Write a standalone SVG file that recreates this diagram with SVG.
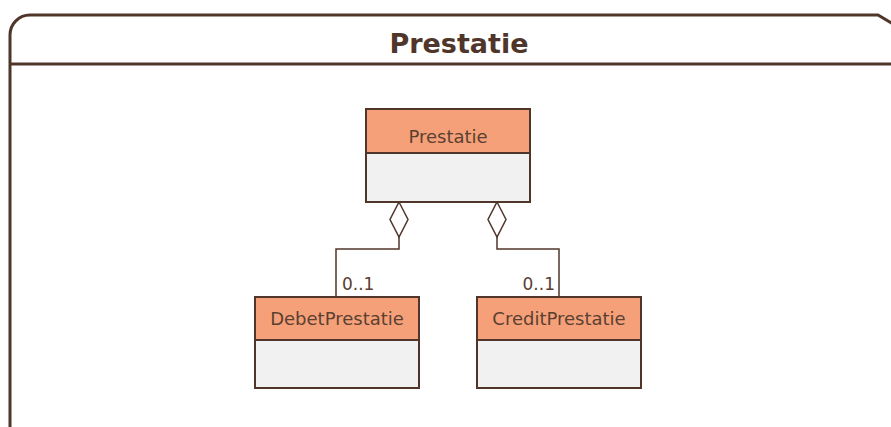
<svg xmlns="http://www.w3.org/2000/svg" width="891" height="427" viewBox="0 0 891 427">
<style>
.frame{fill:none;stroke:#50362a;stroke-width:3}
.hdr{fill:#f6a07a;stroke:#50362a;stroke-width:2}
.body{fill:#f1f1f1;stroke:#50362a;stroke-width:2}
.lbl{font-family:"DejaVu Sans",sans-serif;font-size:18px;fill:#5a4030;text-anchor:middle}
.mult{font-family:"DejaVu Sans",sans-serif;font-size:17px;fill:#5a4030}
.title{font-family:"DejaVu Sans",sans-serif;font-size:27px;font-weight:bold;fill:#50362a;text-anchor:middle}
.conn{fill:none;stroke:#50362a;stroke-width:1.5}
.dia{fill:#ffffff;stroke:#50362a;stroke-width:1.5}
</style>
<rect width="891" height="427" fill="#ffffff"/>
<g id="frame">
<path class="frame" d="M10,430 V35 A20,20 0 0 1 30,15 H878 L900,28 V430"/>
<line class="frame" x1="10" y1="64" x2="891" y2="64"/>
<text class="title" x="459" y="53">Prestatie</text>
</g>
<g id="connectors">
<polyline class="conn" points="399,237 399,249 336,249 336,297"/>
<polyline class="conn" points="497,237 497,249 559,249 559,297"/>
<polygon class="dia" points="399,202 408,219.5 399,237 390,219.5"/>
<polygon class="dia" points="497,202 506,219.5 497,237 488,219.5"/>
<text class="mult" x="342" y="290">0..1</text>
<text class="mult" x="555" y="290" text-anchor="end">0..1</text>
</g>
<g id="node-prestatie">
<rect class="body" x="366" y="109" width="164" height="93"/>
<rect class="hdr" x="366" y="109" width="164" height="44"/>
<text class="lbl" x="448" y="143">Prestatie</text>
</g>
<g id="node-debet">
<rect class="body" x="255" y="297" width="164" height="91"/>
<rect class="hdr" x="255" y="297" width="164" height="43"/>
<text class="lbl" x="337" y="325">DebetPrestatie</text>
</g>
<g id="node-credit">
<rect class="body" x="477" y="297" width="164" height="91"/>
<rect class="hdr" x="477" y="297" width="164" height="43"/>
<text class="lbl" x="559" y="325">CreditPrestatie</text>
</g>
</svg>
